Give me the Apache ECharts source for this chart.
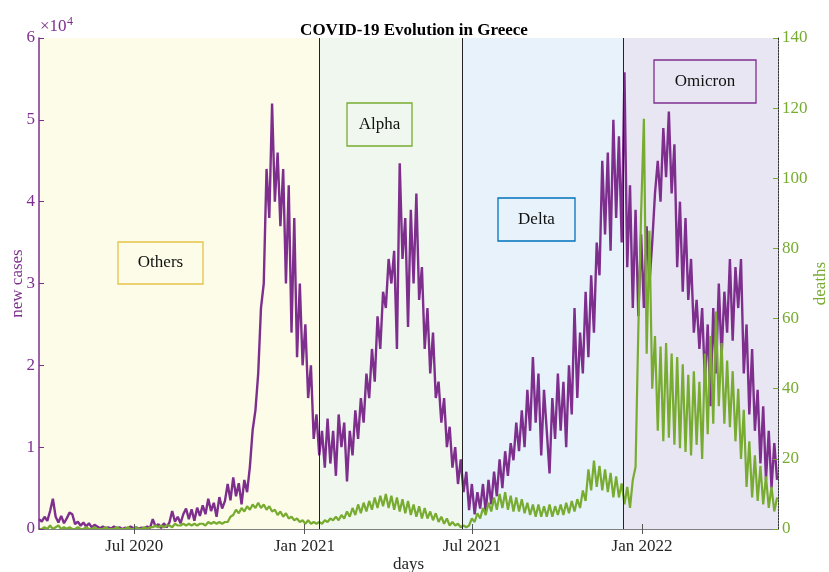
<!DOCTYPE html>
<html><head><meta charset="utf-8">
<script src="https://cdn.jsdelivr.net/npm/echarts@6/dist/echarts.min.js"></script>
<style>html,body{margin:0;padding:0;background:#fff}#c{width:829px;height:572px}</style>
</head><body><div id="c"></div>
<script>
// sampling: one value every 3 days starting at startDate
const startDate = [2020, 2, 20];
const stepDays = 3;
const axisEnd = [2022, 4, 28];

const newCases = [
1200,900,1500,1000,2200,3700,1500,800,1600,700,1300,2000,1800,600,900,400,800,300,700,200,500,300,100,
300,100,200,50,300,100,200,0,150,50,300,100,200,50,150,100,300,100,
1200,300,600,100,700,200,800,2200,900,1500,700,1800,2500,1200,2400,1000,2600,1600,
2900,1800,3700,2200,3200,1500,3900,2500,3400,5500,3500,6300,4000,5600,3000,6000,4500,7600,
12100,14500,19000,27000,30000,44000,38000,52000,40000,46000,37000,44000,30000,42000,
24000,38000,21000,30000,20000,25000,16000,20000,11000,14000,
9000,12000,7500,13500,8000,12000,6500,14000,10000,13000,5800,12000,9000,14500,11000,16000,13000,19000,16000,22000,18000,26000,22000,29000,27000,33000,30000,34000,22000,44700,
33000,38000,24700,39000,30000,41000,28000,32000,22000,27000,19000,24000,16000,18000,13000,16000,10000,12500,7500,10000,5500,8500,4500,7000,2300,5500,1800,4500,2500,5500,
2000,6000,3000,7000,4000,8500,5000,9500,6500,10500,8400,13000,9500,14500,10000,17000,12000,21000,13000,19000,9000,17000,12000,6800,16000,11000,19000,12000,18000,10000,
20000,14000,27000,16000,24000,19000,29000,21000,31000,24000,35000,31000,45000,36000,46000,34000,50000,38000,48000,35000,55800,32000,42000,27000,39000,26000,
36000,27000,37000,30000,35000,41000,45000,40000,49000,43000,51000,41000,47000,32000,40000,29000,38000,28000,33000,24000,28000,22000,27000,18000,
25000,15000,27000,19000,30000,21000,29000,24000,33000,23000,32000,27000,33000,19000,25000,14000,22000,12000,17000,8000,15000,6000,12000,5000,10500,6000
];

const deaths = [
0,0,0.5,0,1,0,0.5,1,0,0.5,0,0.5,0,0,0.5,0,0,0.5,0,0,0.5,0,0,
0,0.5,0,0,0,0.5,0,0,0,0.5,0,0,0.5,0,0,0.5,0,0.5,
0.5,1,0.5,1,0.5,1,1,0.5,1.5,1,1,1.5,1,1.5,1,1.5,1,1.5,
1.5,1,2,1.5,2,1.5,2,1.5,2,2,3.5,4,5.5,4.5,6,5,6.5,5.5,
7,6,7.5,6,7,5.5,6.5,5,5.5,4,5,3.5,4.5,3,
3.5,2.5,3,2,2.5,1.5,2.5,1.5,2,1.5,
2,1.5,2.5,2,3,2.5,3.5,2.5,4,3,5,3.5,6,4,7,4.5,7.5,5,8,5.5,9,6,9.5,6.5,10,6,9.5,5.5,9,5,
8.5,4.5,8,4,7,3.5,6.5,3,6,3,5,2.5,4.5,2,3.5,1.5,3,1,2,1,1.5,0.5,1,0.5,1,3,2,4.5,3,6,
4,7.5,5,9,5.5,10,6,10.5,5.5,9.5,5,9,5,8.5,4.5,7.5,4,7,3.5,7,3.5,6.5,3.5,7,3.5,6.5,4,7,4,7.5,
4.5,8,5,8.5,6,11,8,17,11,19.5,12,18,11,17,10.5,16,9,15,9,13,7,12,6,14,17.7,57,
90,117,50,85,40,55,28,52,25,53,26,50,24,49,23,47,22,44,21,45,24,42,20,50,
27,55,30,62,35,53,30,48,29,45,25,40,20,34,12,25,9,21,8,18,7,15,6,12,5,9
];

const variantNames = ['Others', 'Alpha', 'Delta', 'Omicron'];
const variantStarts = ['2020-03-20', '2021-01-17', '2021-06-21', '2021-12-12'];
const variantEnds = ['2021-01-17', '2021-06-21', '2021-12-12', '2022-05-28'];
const variantFill = ['#fcfce8', '#f0f7ee', '#e7f2fb', '#e9e6f4'];
const variantBorder = ['#e6c24a', '#77ac30', '#0072bd', '#7e2f8e'];
const xTickDates = ['2020-07-01', '2021-01-01', '2021-07-01', '2022-01-01'];
const casesTicks = [0, 1, 2, 3, 4, 5, 6];
const deathTicks = [0, 20, 40, 60, 80, 100, 120, 140];

const MON = ['Jan','Feb','Mar','Apr','May','Jun','Jul','Aug','Sep','Oct','Nov','Dec'];
const DAY = 86400000;
function ts(s) { const p = s.split('-').map(Number); return Date.UTC(p[0], p[1] - 1, p[2]); }
const t0 = Date.UTC(startDate[0], startDate[1], startDate[2]);
const tEnd = Date.UTC(axisEnd[0], axisEnd[1], axisEnd[2]);
const casesData = newCases.map((v, i) => [t0 + i * stepDays * DAY, v]);
const deathsData = deaths.map((v, i) => [t0 + i * stepDays * DAY, v]);
const tickTs = xTickDates.map(ts);

const PURPLE = '#7e2f8e', GREEN = '#77ac30';
const FONT = '"Liberation Serif", "Times New Roman", serif';

const boxes = [
  {x: 118, y: 242, w: 85, h: 42},
  {x: 347, y: 103, w: 65, h: 43},
  {x: 498, y: 198, w: 77, h: 43},
  {x: 654, y: 60, w: 102, h: 43}
];
const graphics = [];
boxes.forEach((b, i) => {
  graphics.push({type: 'rect', shape: {x: b.x, y: b.y, width: b.w, height: b.h}, z: 100,
    style: {fill: 'none', stroke: variantBorder[i], lineWidth: 1.3}});
  graphics.push({type: 'text', x: b.x + b.w / 2, y: b.y + b.h / 2, z: 101,
    style: {text: variantNames[i], fill: '#111', font: '17px ' + FONT, align: 'center', verticalAlign: 'middle'}});
});
graphics.push({type: 'text', x: 40, y: 35, z: 101, style: {text: '×10', fill: PURPLE, font: '17px ' + FONT, verticalAlign: 'bottom'}});
graphics.push({type: 'text', x: 67, y: 28, z: 101, style: {text: '4', fill: PURPLE, font: '12px ' + FONT, verticalAlign: 'bottom'}});

const chart = echarts.init(document.getElementById('c'), null, {renderer: 'canvas'});
chart.setOption({
  animation: false,
  backgroundColor: '#fff',
  title: {text: 'COVID-19 Evolution in Greece', left: 409, top: 17, textAlign: 'center',
    textStyle: {fontFamily: FONT, fontWeight: 'bold', fontSize: 17, color: '#000'}},
  grid: {left: 39, right: 51, top: 38, bottom: 43, containLabel: false, outerBoundsMode: 'none'},
  xAxis: [{
    type: 'value', min: t0, max: tEnd, z: 10, name: 'days', nameLocation: 'middle', nameGap: 27, nameMoveOverlap: false,
    nameTextStyle: {fontFamily: FONT, fontSize: 17, color: '#262626'},
    axisLine: {show: true, lineStyle: {color: '#808080', width: 1}},
    axisTick: {show: true, inside: true, length: 5, customValues: tickTs, lineStyle: {color: '#555'}},
    axisLabel: {customValues: tickTs, fontFamily: FONT, fontSize: 17, color: '#262626', margin: 9,
      formatter: v => { const d = new Date(v); return MON[d.getUTCMonth()] + ' ' + d.getUTCFullYear(); }},
    splitLine: {show: false}
  }, {
    type: 'value', position: 'top', min: t0, max: tEnd, z: 10,
    axisLine: {show: true, lineStyle: {color: '#808080', width: 1}},
    axisTick: {show: true, inside: true, length: 5, customValues: tickTs, lineStyle: {color: '#555'}},
    axisLabel: {show: false}, splitLine: {show: false}
  }],
  yAxis: [{
    type: 'value', min: 0, max: 60000, interval: 10000, position: 'left', z: 10,
    name: 'new cases', nameLocation: 'middle', nameGap: 13, nameRotate: 90, nameMoveOverlap: false,
    nameTextStyle: {fontFamily: FONT, fontSize: 17, color: PURPLE},
    axisLine: {show: true, lineStyle: {color: PURPLE, width: 1.5}},
    axisTick: {show: true, inside: true, length: 5, lineStyle: {color: PURPLE}},
    axisLabel: {fontFamily: FONT, fontSize: 17, color: PURPLE, margin: 4,
      formatter: v => String(casesTicks[Math.round(v / 10000)])},
    splitLine: {show: false}
  }, {
    type: 'value', min: 0, max: 140, interval: 20, position: 'right', z: 10,
    name: 'deaths', nameLocation: 'middle', nameGap: 34, nameRotate: 90, nameMoveOverlap: false,
    nameTextStyle: {fontFamily: FONT, fontSize: 17, color: GREEN},
    axisLine: {show: true, lineStyle: {color: '#333', width: 1, type: [2, 1]}},
    axisTick: {show: true, inside: true, length: 5, lineStyle: {color: GREEN}},
    axisLabel: {fontFamily: FONT, fontSize: 17, color: GREEN, margin: 4,
      formatter: v => String(deathTicks[Math.round(v / 20)])},
    splitLine: {show: false}
  }],
  series: [{
    name: 'new cases', type: 'line', xAxisIndex: 0, yAxisIndex: 0, data: casesData,
    showSymbol: false, symbol: 'none', z: 3,
    lineStyle: {color: PURPLE, width: 2.4},
    markArea: {silent: true, z: 1,
      data: variantStarts.map((s, i) => [{xAxis: ts(s), itemStyle: {color: variantFill[i]}}, {xAxis: ts(variantEnds[i])}])},
    markLine: {silent: true, symbol: 'none', label: {show: false},
      lineStyle: {color: '#222', width: 1, type: 'solid'},
      data: variantStarts.slice(1).map(s => ({xAxis: ts(s)}))}
  }, {
    name: 'deaths', type: 'line', xAxisIndex: 0, yAxisIndex: 1, data: deathsData,
    showSymbol: false, symbol: 'none', z: 4,
    lineStyle: {color: GREEN, width: 2.2}
  }],
  graphic: graphics
});
</script>
</body></html>
